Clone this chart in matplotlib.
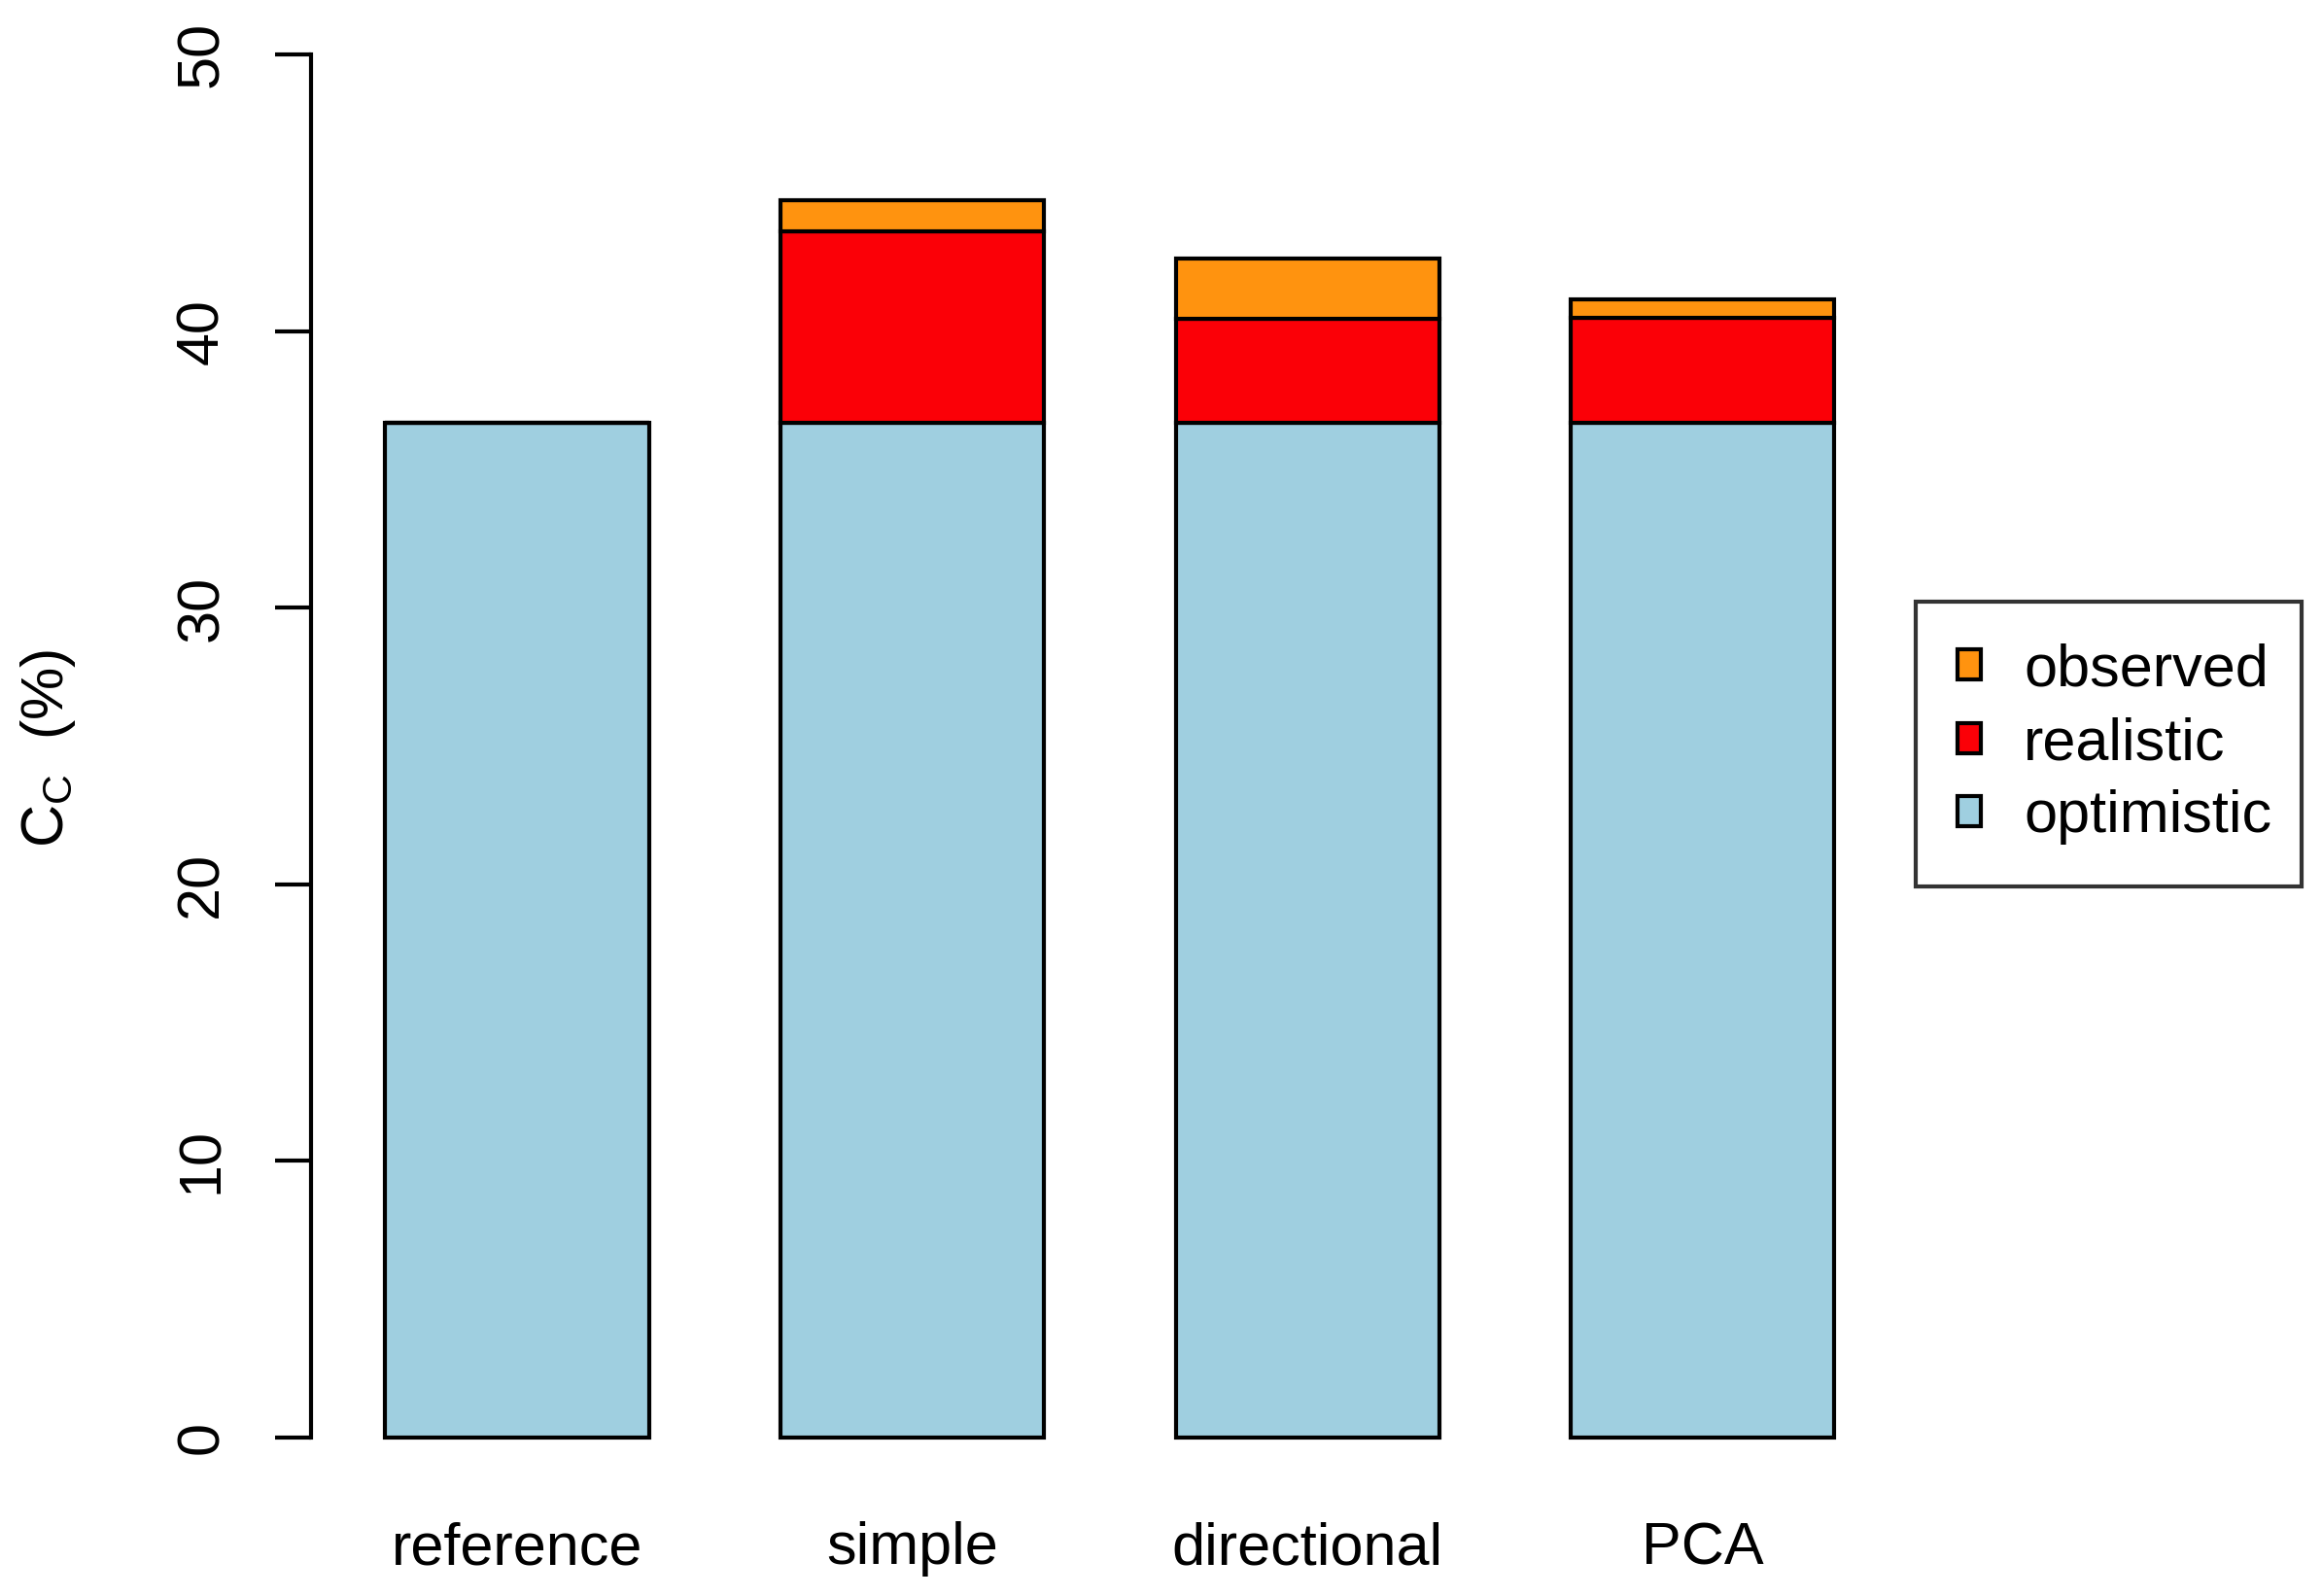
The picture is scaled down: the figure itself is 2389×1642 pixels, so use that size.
import matplotlib
matplotlib.use("Agg")
import matplotlib.pyplot as plt
import numpy as np

plt.rcParams['font.family'] = ['Liberation Sans', 'DejaVu Sans']
plt.rcParams['mathtext.fontset'] = 'custom'
plt.rcParams['mathtext.rm'] = 'Liberation Sans'

categories = ["reference", "simple", "directional", "PCA"]
optimistic = [36.7, 36.7, 36.7, 36.7]
realistic = [0.0, 6.9, 3.75, 3.8]
observed = [0.0, 1.15, 2.2, 0.65]
yticks = [0, 10, 20, 30, 40, 50]

col_opt = '#9FCFE0'
col_real = '#FB0007'
col_obs = '#FF930F'

W, H = 2389, 1642
fig = plt.figure(figsize=(W / 100, H / 100), dpi=100)
ax_left, ax_right = 320, 1947
ax_bottom, ax_top = 1479, 56.4
ax = fig.add_axes([ax_left / W, 1 - ax_bottom / H, (ax_right - ax_left) / W, (ax_bottom - ax_top) / H])

x = 1.0 + 1.5 * np.arange(len(categories))
lw = 3.0
opt = np.array(optimistic)
real = np.array(realistic)
obs = np.array(observed)
b1 = ax.bar(x, opt, width=1.0, color=col_opt, edgecolor='black', linewidth=lw, label='optimistic', clip_on=False)
b2 = ax.bar(x, real, bottom=opt, width=1.0, color=col_real, edgecolor='black', linewidth=lw, label='realistic', clip_on=False)
b3 = ax.bar(x, obs, bottom=opt + real, width=1.0, color=col_obs, edgecolor='black', linewidth=lw, label='observed', clip_on=False)

ax.set_xlim(0.218, 6.22)
ax.set_ylim(0, 50)
for s in ['top', 'right', 'bottom']:
    ax.spines[s].set_visible(False)
ax.spines['left'].set_linewidth(lw)
ax.set_yticks(yticks)
ax.set_yticklabels([str(t) for t in yticks], rotation=90, va='center', fontsize=44)
ax.tick_params(axis='y', length=27, width=lw, pad=33)
ax.set_xticks(x)
ax.set_xticklabels(categories, fontsize=44)
ax.tick_params(axis='x', length=0, pad=62)

fig.text(50 / W, 1 - 770 / H, r'C$_\mathregular{C}$  (%)', rotation=90, ha='center', va='center', fontsize=44)

leg_top = 1 - 619 / H
leg = ax.legend(handles=[b3, b2, b1], labels=['observed', 'realistic', 'optimistic'],
                loc='upper left', bbox_to_anchor=(1971 / W, leg_top - 0.1, (2368 - 1971) / W, 0.1),
                bbox_transform=fig.transFigure, mode='expand', borderaxespad=0,
                fontsize=44, frameon=True, fancybox=False, handlelength=0.4, handleheight=0.4,
                handletextpad=0.72, labelspacing=0.3, borderpad=0.7)
leg.get_frame().set_edgecolor('black')
leg.get_frame().set_linewidth(lw)
for p in leg.get_patches():
    p.set_linewidth(lw)

fig.savefig('out.png', dpi=100)
